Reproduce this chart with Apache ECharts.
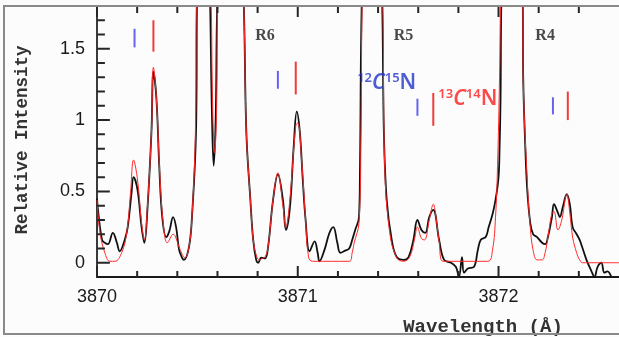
<!DOCTYPE html>
<html><head><meta charset="utf-8">
<script src="https://cdn.jsdelivr.net/npm/echarts@6/dist/echarts.min.js"></script>
<style>html,body{margin:0;padding:0;background:#fcfcfc}#c{width:619px;height:337px}</style>
</head><body><div id="c"></div>
<script>
// ---- data ----
var obsWave = [3870.000,3870.005,3870.025,3870.039,3870.054,3870.079,3870.099,3870.113,3870.138,3870.153,
3870.172,3870.182,3870.202,3870.222,3870.236,3870.251,3870.271,3870.281,3870.296,3870.310,
3870.325,3870.345,3870.360,3870.379,3870.394,3870.409,3870.424,3870.433,3870.458,3870.473,
3870.493,3870.500,3870.532,3870.562,3870.571,3870.581,3870.591,3870.601,3870.665,3870.729,
3870.744,3870.764,3870.778,3870.793,3870.803,3870.818,3870.837,3870.852,3870.877,3870.901,
3870.926,3870.941,3870.961,3870.980,3870.995,3871.010,3871.025,3871.039,3871.059,3871.084,
3871.099,3871.108,3871.133,3871.158,3871.177,3871.197,3871.212,3871.236,3871.256,3871.271,
3871.286,3871.305,3871.310,3871.320,3871.369,3871.419,3871.429,3871.443,3871.468,3871.493,
3871.527,3871.552,3871.576,3871.596,3871.616,3871.635,3871.655,3871.675,3871.704,3871.729,
3871.764,3871.788,3871.803,3871.818,3871.828,3871.847,3871.877,3871.897,3871.911,3871.936,
3871.951,3871.970,3871.985,3872.000,3872.005,3872.010,3872.015,3872.069,3872.120,3872.123,
3872.133,3872.143,3872.158,3872.172,3872.192,3872.217,3872.232,3872.246,3872.266,3872.276,
3872.296,3872.305,3872.320,3872.340,3872.355,3872.369,3872.389,3872.404,3872.419,3872.438,
3872.463,3872.478,3872.493,3872.512,3872.527,3872.542,3872.562];
var obsIntensity = [0.45,0.37,0.16,0.14,0.13,0.21,0.14,0.08,0.16,0.25,
0.49,0.60,0.51,0.25,0.14,0.37,0.91,1.34,1.15,0.68,
0.32,0.18,0.22,0.32,0.25,0.09,0.035,0.02,0.11,0.32,
0.91,2.0,3.2,1.9,1.15,0.68,1.0,1.9,4.0,1.9,
0.91,0.44,0.16,0.02,0.0,0.035,0.03,0.11,0.44,0.62,
0.44,0.23,0.39,0.82,1.06,0.92,0.58,0.30,0.08,0.15,
0.07,0.01,0.09,0.21,0.25,0.14,0.07,0.085,0.10,0.16,
0.23,0.32,0.68,1.9,4.0,1.9,0.91,0.44,0.16,0.04,
0.02,0.04,0.16,0.30,0.23,0.21,0.32,0.37,0.16,0.02,
0.0,-0.03,-0.10,0.04,-0.07,-0.04,-0.03,0.09,0.16,0.18,
0.25,0.34,0.44,0.60,0.80,1.15,1.9,4.0,1.9,1.29,
0.82,0.51,0.28,0.20,0.18,0.14,0.13,0.18,0.32,0.41,
0.35,0.32,0.39,0.48,0.41,0.25,0.20,0.16,0.10,0.02,
-0.06,-0.10,-0.03,0.0,-0.07,-0.06,-0.10];

var modelWave = [3870.000,3870.015,3870.039,3870.064,3870.089,3870.123,3870.148,3870.167,3870.182,3870.202,
3870.222,3870.236,3870.251,3870.271,3870.281,3870.296,3870.315,3870.335,3870.350,3870.379,
3870.409,3870.424,3870.438,3870.458,3870.473,3870.490,3870.496,3870.532,3870.567,3870.576,
3870.586,3870.596,3870.601,3870.665,3870.729,3870.744,3870.764,3870.778,3870.796,3870.808,
3870.823,3870.837,3870.852,3870.877,3870.901,3870.926,3870.941,3870.961,3870.990,3871.000,
3871.020,3871.039,3871.054,3871.074,3871.256,3871.271,3871.281,3871.305,3871.315,3871.322,
3871.369,3871.422,3871.433,3871.458,3871.493,3871.527,3871.557,3871.581,3871.596,3871.616,
3871.631,3871.655,3871.675,3871.690,3871.704,3871.724,3871.946,3871.970,3871.985,3871.995,
3872.005,3872.012,3872.069,3872.120,3872.123,3872.143,3872.158,3872.172,3872.192,3872.217,
3872.232,3872.246,3872.266,3872.276,3872.296,3872.315,3872.340,3872.355,3872.369,3872.389,
3872.404,3872.419,3872.600];
var modelIntensity = [0.44,0.21,0.07,0.01,0.01,0.07,0.21,0.49,0.72,0.58,
0.28,0.16,0.39,0.91,1.37,1.15,0.56,0.21,0.14,0.20,
0.11,0.06,0.035,0.11,0.32,0.91,1.9,3.2,1.9,1.1,
0.77,1.1,1.9,4.0,1.9,0.91,0.44,0.16,0.04,0.02,
0.03,0.04,0.11,0.44,0.63,0.40,0.25,0.45,0.96,0.98,
0.70,0.30,0.04,0.01,0.01,0.07,0.14,0.28,0.91,1.9,
4.0,1.9,0.68,0.21,0.035,0.01,0.04,0.16,0.25,0.17,
0.16,0.30,0.41,0.30,0.15,0.01,0.01,0.09,0.32,0.68,
1.3,1.9,4.0,1.9,1.29,0.58,0.25,0.09,0.02,0.02,
0.07,0.18,0.35,0.36,0.23,0.30,0.48,0.35,0.18,0.07,
0.02,0.0,0.0];

// line identifications: 0 = 12C15N (blue), 1 = 13C14N (red)
var markerWave    = [3870.187,3870.281,3870.901,3870.990,3871.596,3871.675,3872.271,3872.345];
var markerTop     = [1.64,1.70,1.345,1.41,1.15,1.19,1.16,1.20];
var markerBottom  = [1.51,1.48,1.22,1.18,1.03,0.96,1.04,1.00];
var markerSpecies = [0,1,0,1,0,1,0,1];

var labelWave = [3870.837,3871.527,3872.232,3871.443,3871.847];
var labelIntensity = [1.59,1.59,1.59,1.26,1.15];
var labelText = ['R6','R5','R4','12C15N','13C14N'];

// tick values
var xMajorTicks = [3870,3871,3872];
var xMinorTicks = [3870.2,3870.4,3870.6,3870.8,3871.2,3871.4,3871.6,3871.8,3872.2,3872.4];
var yMajorTicks = [0,0.5,1,1.5];
var yMinorTicks = [0.1,0.2,0.3,0.4,0.6,0.7,0.8,0.9,1.1,1.2,1.3,1.4,1.6,1.7];

// ---- chart ----
var XMIN = 3870, XMAX = 3872.6, YMIN = -0.1, YMAX = 1.8;
var GRID = {left: 97, right: -6, top: 6, bottom: 60};
var W = 619, H = 337;
var TICK_COLOR = '#262626';
// data units per pixel, from the grid layout
var xPerPx = (XMAX - XMIN) / (W - GRID.left - GRID.right);
var yPerPx = (YMAX - YMIN) / (H - GRID.top - GRID.bottom);

// tick segments as a broken polyline (null breaks the line between ticks)
var tickSegments = [];
function seg(x1, y1, x2, y2) { tickSegments.push([x1, y1], [x2, y2], null); }
xMajorTicks.forEach(function(v){ seg(v, YMIN, v, YMIN + 11 * yPerPx); seg(v, YMAX, v, YMAX - 11 * yPerPx); });
xMinorTicks.forEach(function(v){ seg(v, YMIN, v, YMIN + 6 * yPerPx);  seg(v, YMAX, v, YMAX - 7 * yPerPx); });
yMajorTicks.forEach(function(v){ seg(XMIN, v, XMIN + 13 * xPerPx, v); });
yMinorTicks.forEach(function(v){ seg(XMIN, v, XMIN + 8 * xPerPx, v); });

var isoRich = function(color){
  return {
    s: {fontFamily: 'Noto Sans', fontSize: 13, fontWeight: 600, lineHeight: 12, verticalAlign: 'top', color: color},
    c: {fontFamily: 'Noto Sans', fontSize: 21, fontWeight: 600, lineHeight: 22, fontStyle: 'italic', color: color},
    n: {fontFamily: 'Noto Sans', fontSize: 21, fontWeight: 600, lineHeight: 22, color: color}
  };
};

var labelData = labelWave.map(function(w, i){
  var t = labelText[i];
  var item = {value: [w, labelIntensity[i]], name: t};
  if (t.charAt(0) === 'R') {
    item.label = {formatter: t, fontFamily: 'Liberation Serif', fontWeight: 'bold', fontSize: 16, color: '#1a1a1a'};
  } else {
    var m = t.match(/^(\d+)C(\d+)N$/);
    var col = (t === '12C15N') ? '#2233cc' : '#ff1a1a';
    item.label = {formatter: '{s|' + m[1] + '}{c|C}{s|' + m[2] + '}{n|N}', rich: isoRich(col)};
  }
  return item;
});

var chart = echarts.init(document.getElementById('c'), null, {renderer: 'canvas'});
chart.setOption({
  backgroundColor: '#fcfcfc',
  animation: false,
  grid: {left: GRID.left, right: GRID.right, top: GRID.top, bottom: GRID.bottom, containLabel: false},
  xAxis: [
    {
      type: 'value', position: 'bottom', min: XMIN, max: XMAX, interval: 1,
      axisLine: {show: true, onZero: false, lineStyle: {color: '#1a1a1a', width: 2}},
      axisTick: {show: false},
      axisLabel: {show: true, margin: 11, color: '#1a1a1a', showMaxLabel: false, hideOverlap: false,
        fontFamily: 'Liberation Sans', fontSize: 18,
        formatter: function(v){ return Math.abs(v - Math.round(v)) < 1e-6 ? String(Math.round(v)) : ''; }},
      splitLine: {show: false}
    },
    {
      type: 'value', position: 'top', min: XMIN, max: XMAX, interval: 1,
      axisLine: {show: true, onZero: false, lineStyle: {color: '#8a8a8a', width: 2}},
      axisTick: {show: false}, axisLabel: {show: false}, splitLine: {show: false}
    }
  ],
  yAxis: [
    {
      type: 'value', position: 'left', min: YMIN, max: YMAX,
      minInterval: 0.5, maxInterval: 0.5, splitNumber: 4,
      axisLine: {show: true, onZero: false, lineStyle: {color: '#3a3a3a', width: 2}},
      axisTick: {show: false},
      axisLabel: {show: true, margin: 12, color: '#1a1a1a', showMinLabel: false, showMaxLabel: false,
        hideOverlap: false, fontFamily: 'Liberation Sans', fontSize: 18,
        formatter: function(v){
          var r = Math.round(v * 2) / 2;
          return (Math.abs(v - r) < 1e-6 && r >= 0) ? String(r) : '';
        }},
      splitLine: {show: false}
    }
  ],
  graphic: [
    {type: 'rect', z: 100, silent: true, shape: {x: 4, y: 6, width: 700, height: 328},
     style: {fill: null, stroke: '#8a8a8a', lineWidth: 2}},
    {type: 'text', x: 23, y: 140, rotation: Math.PI / 2, silent: true,
     style: {text: 'Relative Intensity', fontFamily: 'Liberation Mono', fontSize: 17.5, fontWeight: 'bold',
             fill: '#333', align: 'center', verticalAlign: 'middle'}},
    {type: 'text', x: 483, y: 327, silent: true,
     style: {text: 'Wavelength (Å)', fontFamily: 'Liberation Mono', fontSize: 19, fontWeight: 'bold',
             fill: '#333', align: 'center', verticalAlign: 'middle'}}
  ],
  series: [
    {
      type: 'line', name: 'model', xAxisIndex: 0, yAxisIndex: 0,
      data: modelWave.map(function(w, i){ return [w, modelIntensity[i]]; }),
      showSymbol: false, smooth: 0.4, clip: true,
      lineStyle: {color: '#ff2a2a', width: 1}, z: 3
    },
    {
      type: 'line', name: 'observed', xAxisIndex: 0, yAxisIndex: 0,
      data: obsWave.map(function(w, i){ return [w, obsIntensity[i]]; }),
      showSymbol: false, smooth: 0.4, clip: true,
      lineStyle: {color: '#111', width: 1.8}, z: 2
    },
    {
      type: 'line', name: 'ticks', xAxisIndex: 0, yAxisIndex: 0,
      data: tickSegments, connectNulls: false, showSymbol: false, smooth: false,
      clip: false, silent: true,
      lineStyle: {color: TICK_COLOR, width: 2, cap: 'butt'}, z: 7
    },
    {
      type: 'custom', name: 'markers', xAxisIndex: 0, yAxisIndex: 0,
      data: markerWave.map(function(w, i){ return [w, markerTop[i], markerBottom[i], markerSpecies[i]]; }),
      encode: {x: 0, y: [1, 2]},
      renderItem: function(params, api){
        var a = api.coord([api.value(0), api.value(1)]);
        var b = api.coord([api.value(0), api.value(2)]);
        return {type: 'line', shape: {x1: a[0], y1: a[1], x2: b[0], y2: b[1]},
                style: {stroke: api.value(3) === 0 ? '#6464ee' : '#f23a3a', lineWidth: 2}};
      },
      z: 4
    },
    {
      type: 'scatter', name: 'labels', xAxisIndex: 0, yAxisIndex: 0,
      symbolSize: 0, data: labelData, silent: true,
      label: {show: true, position: 'inside', align: 'center', verticalAlign: 'middle'},
      z: 5
    }
  ]
});
</script></body></html>
